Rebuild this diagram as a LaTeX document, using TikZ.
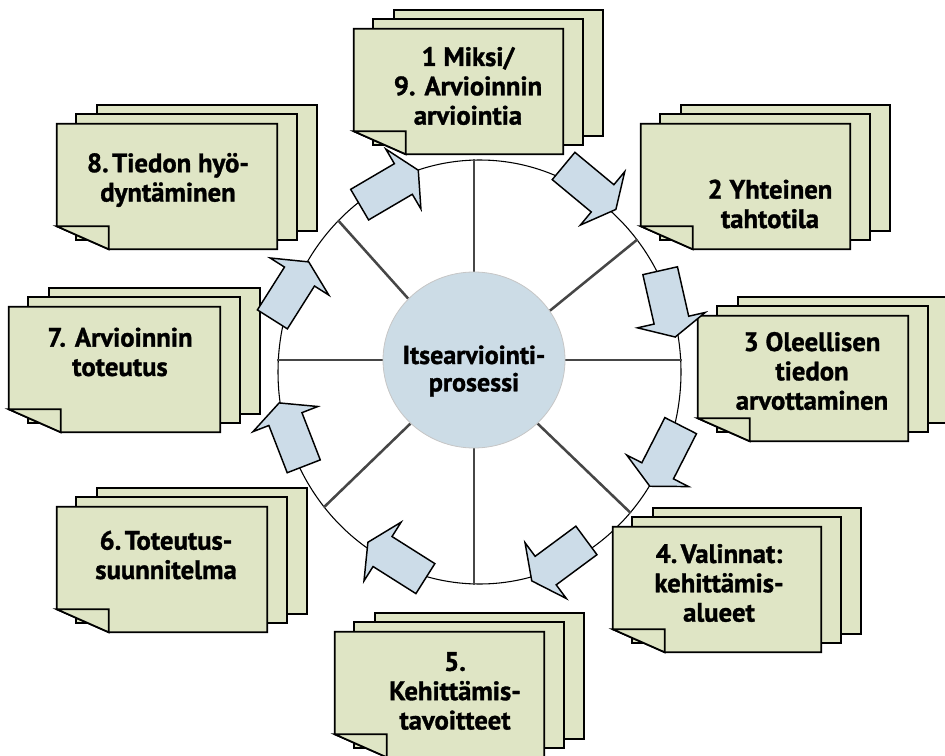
\documentclass[tikz,border=0pt]{standalone}
\usepackage{fontspec}
\setmainfont{PT Sans}[BoldFont={PT Sans Bold}, BoldFeatures={FakeBold=1.2}]
\usetikzlibrary{shapes.geometric,shapes.arrows}

\definecolor{sheetfill}{RGB}{223,229,197}
\definecolor{arrowfill}{RGB}{204,220,232}
\definecolor{corefill}{RGB}{204,220,230}
\definecolor{spokegray}{RGB}{70,70,70}

\newcommand\nsp{\hspace{0.13em}}

\tikzset{
  sheet/.style={rectangle, inner sep=0pt, minimum height=93.75pt},
  sheetpaper/.style={fill=sheetfill, draw=black, line width=1.3pt, line join=miter},
  doclabel/.style={align=center, inner sep=0pt,
    font=\fontsize{20}{22}\selectfont\bfseries, text=black},
  corelabel/.style={align=center, inner sep=0pt,
    font=\fontsize{19.5}{20.5}\selectfont\bfseries, text=black},
  spoke/.style={draw=spokegray, line width=1.9pt},
  flow/.style={single arrow, draw=black, fill=arrowfill, line width=1.1pt,
    minimum height=51pt, inner xsep=0pt, inner ysep=12.75pt,
    single arrow head extend=12.75pt, single arrow tip angle=127,
    anchor=tail, line join=miter},
}

% a stack of three sheets; the front one has a folded lower-left corner
% #1 name, #2 left edge, #3 top edge, #4 width (all in px)
\newcommand\docstack[4]{%
  \node[sheet, minimum width=#4*0.75pt] (#1) at ({#2+#4/2},{#3+62.5}) {};
  \path[sheetpaper] ([shift={(40,-18.5)}]#1.north west) rectangle ([shift={(40,-18.5)}]#1.south east);
  \path[sheetpaper] ([shift={(19.5,-9.5)}]#1.north west) rectangle ([shift={(19.5,-9.5)}]#1.south east);
  \path[sheetpaper] (#1.north west) -- (#1.north east) -- (#1.south east)
    -- ([shift={(52,0)}]#1.south west) -- ([shift={(0,-23)}]#1.south west) -- cycle;
  \path[sheetpaper] ([shift={(0,-23)}]#1.south west) -- ([shift={(52,-23)}]#1.south west)
    -- ([shift={(52,0)}]#1.south west) -- cycle;
}

\begin{document}
\begin{tikzpicture}[x=0.75pt,y=-0.75pt]
\useasboundingbox (0,0) rectangle (945,756);

% outer ring and spokes
\node[ellipse, draw=black, line width=0.8pt, inner sep=0pt,
  minimum width=403*0.75pt, minimum height=424*0.75pt] (ring) at (479.5,372) {};
\node[ellipse, inner sep=0pt, minimum width=182*0.75pt, minimum height=176*0.75pt] (core) at (474,360) {};

\draw[spoke] (core.north) -- (core.north |- ring.north);
\draw[spoke] (core.south) -- (core.south |- ring.south);
\draw[spoke] (core.west) -- (core.west -| ring.west);
\draw[spoke] (core.east) -- (core.east -| ring.east);
\draw[spoke] (core.137) -- (ring.133);
\draw[spoke] (core.33) -- (ring.40);
\draw[spoke] (core.-45) -- (ring.-43);
\draw[spoke] (core.225) -- (ring.221);

% central disc
\fill[corefill, draw=gray!45, line width=0.6pt] (core.center) ellipse [x radius=91, y radius=88];
\node[corelabel] (proc) at (474,371) {Itsearviointi-\\prosessi};

% document stacks
\docstack{d1}{354}{29}{209}
\docstack{d2}{641}{124}{209}
\docstack{d3}{698}{316}{210}
\docstack{d4}{613}{527}{208}
\docstack{d5}{335}{632}{209}
\docstack{d6}{57}{507}{210}
\docstack{d7}{9}{307}{211}
\docstack{d8}{57}{124}{220}

% block arrows along the ring
\node[flow, rotate=30.4]  (a1) at (359,205) {};
\node[flow, rotate=-39.7] (a2) at (563,165.5) {};
\node[flow, rotate=-77.2] (a3) at (660,270) {};
\node[flow, rotate=-117]  (a4) at (681,425) {};
\node[flow, rotate=-143.5] (a5) at (587,540) {};
\node[flow, rotate=147.7] (a6) at (426,579) {};
\node[flow, rotate=111.2] (a7) at (304,467) {};
\node[flow, rotate=57.7]  (a8) at (272,320) {};

% stack captions
\node[doclabel] (t1) at (468,86)  {1 Miksi/\\9. Arvioinnin\\arviointia};
\node[doclabel] (t2) at (770,204) {2 Yhteinen\\tahtotila};
\node[doclabel] (t3) at (812,371) {3 Oleellisen\\tiedon\\arvottaminen};
\node[doclabel] (t4) at (719,583) {4.\nsp Valinnat:\\kehittämis-\\alueet};
\node[doclabel] (t5) at (455,691) {5.\\Kehittämis-\\tavoitteet};
\node[doclabel] (t6) at (166,555) {6.\nsp Toteutus-\\suunnitelma};
\node[doclabel] (t7) at (120,352) {7. Arvioinnin\\toteutus};
\node[doclabel] (t8) at (168,180) {8.\nsp Tiedon hyö-\\dyntäminen};
\end{tikzpicture}
\end{document}
